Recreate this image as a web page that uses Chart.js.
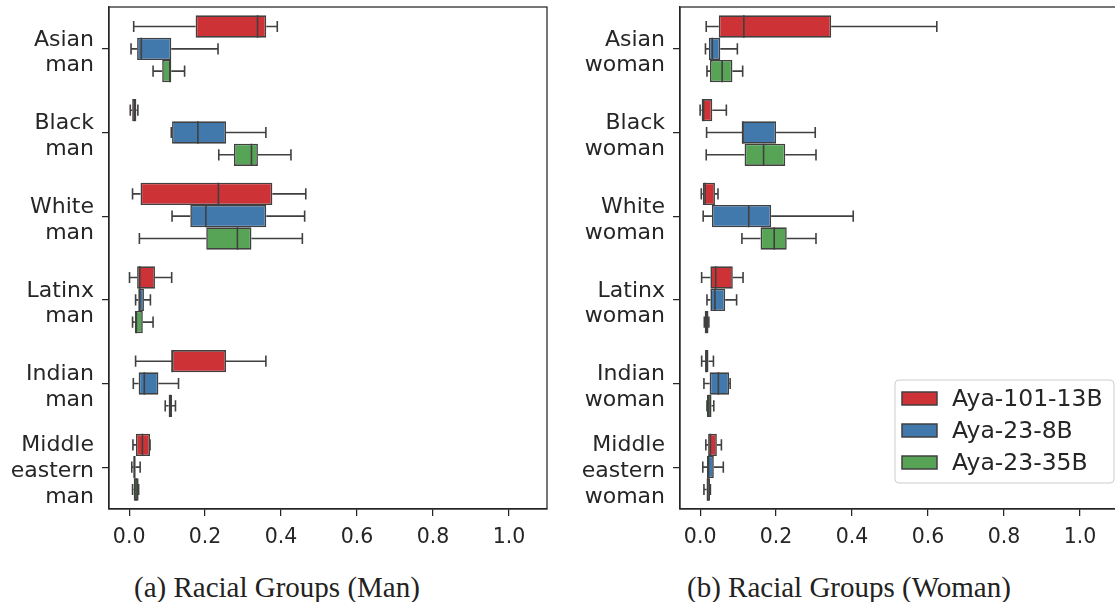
<!DOCTYPE html>
<html><head><meta charset="utf-8">
<script src="https://cdn.jsdelivr.net/npm/chart.js@4.4.1/dist/chart.umd.min.js"></script>
<style>
html,body{margin:0;padding:0;background:#fff;overflow:hidden;}
#wrap{position:relative;width:1115px;height:602px;overflow:hidden;}
.c{position:absolute;top:0;height:560px;}
.cap{position:absolute;top:573px;font-family:"Liberation Serif",serif;font-size:29px;color:#222;white-space:nowrap;line-height:1;}
</style></head><body>
<div id="wrap">
<div class="c" style="left:0;width:557px"><canvas id="c1"></canvas></div>
<div class="c" style="left:557px;width:565px"><canvas id="c2"></canvas></div>
<div class="cap" style="left:134px">(a) Racial Groups (Man)</div>
<div class="cap" style="left:687px">(b) Racial Groups (Woman)</div>
</div>
<script>
// ---- data ----
const models = ['Aya-101-13B', 'Aya-23-8B', 'Aya-23-35B'];
const colors = ['#CD3336', '#4279AD', '#58A457'];
const manLabels = [['Asian','man'],['Black','man'],['White','man'],['Latinx','man'],['Indian','man'],['Middle','eastern','man']];
const womanLabels = [['Asian','woman'],['Black','woman'],['White','woman'],['Latinx','woman'],['Indian','woman'],['Middle','eastern','woman']];
const xTicks = [0.0, 0.2, 0.4, 0.6, 0.8, 1.0];
// each entry: [whisker low, Q1, median, Q3, whisker high]
const manAya101 = [
  [0.012, 0.175, 0.338, 0.361, 0.390],
  [0.003, 0.008, 0.014, 0.019, 0.023],
  [0.009, 0.030, 0.235, 0.377, 0.465],
  [0.001, 0.021, 0.028, 0.068, 0.112],
  [0.017, 0.113, 0.113, 0.255, 0.360],
  [0.010, 0.018, 0.035, 0.055, 0.055]
];
const manAya23_8 = [
  [0.005, 0.021, 0.032, 0.111, 0.234],
  [0.111, 0.113, 0.181, 0.255, 0.360],
  [0.113, 0.161, 0.202, 0.361, 0.462],
  [0.017, 0.024, 0.028, 0.039, 0.056],
  [0.011, 0.025, 0.040, 0.077, 0.130],
  [0.007, 0.011, 0.014, 0.017, 0.029]
];
const manAya23_35 = [
  [0.063, 0.087, 0.107, 0.111, 0.146],
  [0.236, 0.276, 0.322, 0.339, 0.426],
  [0.027, 0.203, 0.285, 0.322, 0.456],
  [0.009, 0.015, 0.019, 0.036, 0.063],
  [0.095, 0.104, 0.108, 0.113, 0.122],
  [0.009, 0.012, 0.018, 0.025, 0.025]
];
const womanAya101 = [
  [0.016, 0.049, 0.115, 0.345, 0.623],
  [0.000, 0.004, 0.009, 0.032, 0.069],
  [0.003, 0.007, 0.013, 0.039, 0.047],
  [0.004, 0.027, 0.041, 0.086, 0.113],
  [0.004, 0.013, 0.016, 0.022, 0.035],
  [0.015, 0.021, 0.027, 0.044, 0.056]
];
const womanAya23_8 = [
  [0.014, 0.023, 0.032, 0.053, 0.098],
  [0.017, 0.111, 0.112, 0.200, 0.303],
  [0.008, 0.031, 0.128, 0.187, 0.403],
  [0.018, 0.027, 0.039, 0.066, 0.096],
  [0.010, 0.025, 0.048, 0.076, 0.079],
  [0.007, 0.018, 0.022, 0.036, 0.061]
];
const womanAya23_35 = [
  [0.018, 0.026, 0.058, 0.085, 0.112],
  [0.016, 0.117, 0.167, 0.224, 0.305],
  [0.110, 0.159, 0.195, 0.228, 0.305],
  [0.011, 0.012, 0.017, 0.022, 0.023],
  [0.018, 0.018, 0.023, 0.030, 0.036],
  [0.010, 0.017, 0.020, 0.026, 0.027]
];

const EDGE = '#404040';
const AXC = '#262626';

const boxPlugin = {
  id: 'boxplot',
  afterDatasetsDraw(chart, args, opts) {
    const ctx = chart.ctx, xs = chart.scales.x;
    const px = v => xs.getPixelForValue(v);
    chart.data.datasets.forEach((ds, i) => {
      const meta = chart.getDatasetMeta(i);
      meta.data.forEach((el, j) => {
        const st = ds.stats[j];
        const y = el.y, h = el.height;
        ctx.save();
        ctx.strokeStyle = EDGE;
        ctx.lineWidth = 1.6;
        ctx.beginPath();
        ctx.moveTo(px(st[0]), y); ctx.lineTo(px(st[1]), y);
        ctx.moveTo(px(st[3]), y); ctx.lineTo(px(st[4]), y);
        ctx.moveTo(px(st[0]), y - h / 4); ctx.lineTo(px(st[0]), y + h / 4);
        ctx.moveTo(px(st[4]), y - h / 4); ctx.lineTo(px(st[4]), y + h / 4);
        ctx.moveTo(px(st[2]), y - h / 2); ctx.lineTo(px(st[2]), y + h / 2);
        ctx.stroke();
        ctx.restore();
      });
    });
    const a = chart.chartArea;
    ctx.save();
    ctx.strokeStyle = AXC;
    ctx.lineWidth = 1.25;
    ctx.strokeRect(a.left, a.top, a.right - a.left, a.bottom - a.top);
    ctx.restore();
    if (opts && opts.legend) {
      const L = opts.legend;
      ctx.save();
      ctx.fillStyle = 'rgba(255,255,255,0.85)';
      ctx.strokeStyle = '#cccccc';
      ctx.lineWidth = 1;
      ctx.beginPath();
      ctx.roundRect(L.x, L.y, L.w, L.h, 4);
      ctx.fill(); ctx.stroke();
      chart.data.datasets.forEach((ds, i) => {
        const cy = L.y + 18.5 + i * 32;
        ctx.fillStyle = ds.backgroundColor;
        ctx.strokeStyle = EDGE;
        ctx.lineWidth = 1.5;
        ctx.fillRect(L.x + 7, cy - 6.5, 35, 13);
        ctx.strokeRect(L.x + 7, cy - 6.5, 35, 13);
        ctx.fillStyle = AXC;
        ctx.font = '23.5px "DejaVu Sans"';
        ctx.textBaseline = 'middle';
        ctx.textAlign = 'left';
        ctx.fillText(ds.label, L.x + 57, cy + 1);
      });
      ctx.restore();
    }
  }
};

function makeChart(id, labels, series, yWidth, rightPad, legend) {
  return new Chart(document.getElementById(id), {
    type: 'bar',
    data: {
      labels: labels,
      datasets: series.map((s, i) => ({
        label: models[i],
        data: s.map(d => [d[1], d[3]]),
        stats: s,
        backgroundColor: colors[i],
        borderColor: EDGE,
        borderWidth: 1.6,
        borderSkipped: false,
        categoryPercentage: 0.8,
        barPercentage: 1.0
      }))
    },
    options: {
      indexAxis: 'y',
      responsive: true,
      maintainAspectRatio: false,
      animation: false,
      layout: { padding: { top: 7, right: rightPad, left: 0, bottom: 0 } },
      plugins: {
        legend: { display: false },
        tooltip: { enabled: false },
        boxplot: { legend: legend }
      },
      scales: {
        x: {
          type: 'linear', min: -0.053, max: 1.1,
          afterBuildTicks: s => { s.ticks = xTicks.map(v => ({ value: v })); },
          afterFit: s => { s.height = 51; s.paddingLeft = 0; s.paddingRight = 0; },
          ticks: { callback: v => Number(v).toFixed(1), font: { family: 'DejaVu Sans', size: 20.5 }, color: AXC, padding: 9, maxRotation: 0, autoSkip: false },
          grid: { display: true, drawOnChartArea: false, drawTicks: true, tickLength: 7, color: AXC, lineWidth: 1.25 },
          border: { display: true, color: AXC, width: 1.25 }
        },
        y: {
          type: 'category', offset: true,
          afterFit: s => { s.width = yWidth; s.paddingTop = 0; s.paddingBottom = 0; },
          ticks: { font: { family: 'DejaVu Sans', size: 22, lineHeight: 1.17 }, color: AXC, padding: 8, labelOffset: 4, autoSkip: false },
          grid: { offset: false, drawOnChartArea: false, drawTicks: true, tickLength: 7, color: AXC, lineWidth: 1.25 },
          border: { display: true, color: AXC, width: 1.25 }
        }
      }
    },
    plugins: [boxPlugin]
  });
}

makeChart('c1', manLabels, [manAya101, manAya23_8, manAya23_35], 109, 10, null);
makeChart('c2', womanLabels, [womanAya101, womanAya23_8, womanAya23_35], 123, 4, { x: 338, y: 380, w: 219, h: 103 });
</script>
</body></html>
